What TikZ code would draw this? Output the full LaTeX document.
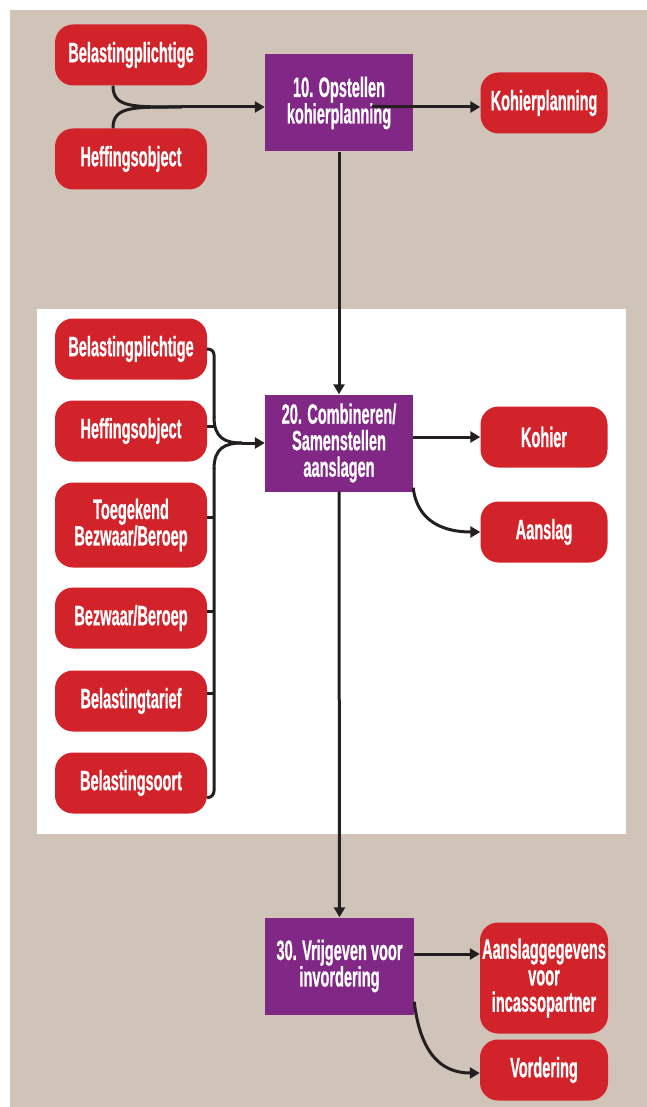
\documentclass[tikz,border=0pt]{standalone}
\usepackage{fontspec}
\setmainfont{Liberation Sans}[FakeStretch=0.52, BoldFeatures={FakeBold=0.6}]
\usetikzlibrary{arrows.meta}
\definecolor{bgbeige}{RGB}{208,196,184}
\definecolor{boxred}{RGB}{210,35,43}
\definecolor{procpurple}{RGB}{129,40,134}
\definecolor{linedark}{RGB}{35,31,32}
\tikzset{
  redbox/.style={fill=boxred, rounded corners=18pt, minimum width=152pt, minimum height=61pt,
    text=white, align=center, inner sep=0pt, font=\fontsize{28}{26.5}\selectfont\bfseries},
  procbox/.style={fill=procpurple, minimum width=148pt, minimum height=97pt,
    text=white, align=center, inner sep=0pt, font=\fontsize{28}{26.5}\selectfont\bfseries},
  conn/.style={draw=linedark, line width=3pt},
  arr/.style={conn, -{Triangle[length=10pt,width=11pt]}},
}
\begin{document}
\begin{tikzpicture}[x=1pt,y=-1pt]
\useasboundingbox (0,0) rectangle (647,1107);
\fill[bgbeige] (10,10) rectangle (647,1107);
\fill[white] (37,309) rectangle (626,834);

% top section
\node[redbox] (bp1) at (131,55) {Belastingplichtige};
\node[redbox] (ho1) at (131,159) {Heffingsobject};
\node[procbox] (p10) at (339,103) {10. Opstellen\\kohierplanning};
\node[redbox, minimum width=127pt] (kp) at (544,103) {Kohierplanning};

% middle section
\node[redbox] (bp2) at (131,349) {Belastingplichtige};
\node[redbox] (ho2) at (131,431) {Heffingsobject};
\node[redbox, minimum height=85pt] (tb) at (131,525) {Toegekend\\Bezwaar/Beroep};
\node[redbox] (bb) at (131,618) {Bezwaar/Beroep};
\node[redbox] (bt) at (131,701) {Belastingtarief};
\node[redbox] (bs) at (131,783) {Belastingsoort};
\node[procbox] (p20) at (339,443) {20. Combineren/\\Samenstellen\\aanslagen};
\node[redbox, minimum width=127pt] (kh) at (544,437) {Kohier};
\node[redbox, minimum width=127pt] (as) at (544,532) {Aanslag};

% bottom section
\node[procbox, minimum width=149pt] (p30) at (339.5,966) {30. Vrijgeven voor\\invordering};
\node[redbox, minimum width=128pt, minimum height=111pt] (ag) at (544,978) {Aanslaggegevens\\voor\\incassopartner};
\node[redbox, minimum width=128pt] (vd) at (544,1070) {Vordering};

% top connectors
\coordinate (m10) at (182,107);
\draw[conn] ([xshift=-18pt]bp1.south) .. controls +(0,22) and +(-50,0) .. (m10);
\draw[conn] ([xshift=-18pt]ho1.north) .. controls +(0,-22) and +(-50,0) .. (m10);
\draw[arr] (m10) -- (p10.west |- m10);
\coordinate (s10) at (372,107);
\draw[arr] (s10) -- (kp.west |- s10);
\draw[arr] (p10.south) -- (p20.north);

% middle merge
\coordinate (bus) at (214,443);
\coordinate (m20) at (242,443);
\draw[conn, rounded corners=6pt] (bp2.east) -- (bus |- bp2.east) -- (214,418);
\draw[conn] (214,417) .. controls (214,438) and (225,443) .. (m20);
\draw[conn, rounded corners=6pt] ([yshift=16pt]bs.south east) -- (214,797) -- (214,468);
\draw[conn] (214,469) .. controls (214,448) and (225,443) .. (m20);
\draw[conn] ([yshift=5pt]ho2.east) -- +(7,0);
\draw[conn] ([yshift=8pt]tb.east) -- +(7,0);
\draw[conn] ([yshift=7pt]bb.east) -- +(7,0);
\draw[conn] ([yshift=8pt]bt.east) -- +(7,0);
\draw[arr] (m20) -- (p20.west |- m20);

\draw[arr] (p20.east |- kh.west) -- (kh.west);
\draw[arr] ([yshift=4pt]p20.south east) .. controls +(4,35) and +(-35,0) .. (as.west);
\draw[arr] (p20.south) -- (p30.north);

% bottom connectors
\coordinate (a30) at ([yshift=24pt]ag.west);
\draw[arr] (p30.east |- a30) -- (a30);
\draw[arr] ([yshift=13pt]p30.south east) .. controls +(6,50) and +(-40,0) .. ([yshift=-3pt]vd.west);
\end{tikzpicture}
\end{document}
